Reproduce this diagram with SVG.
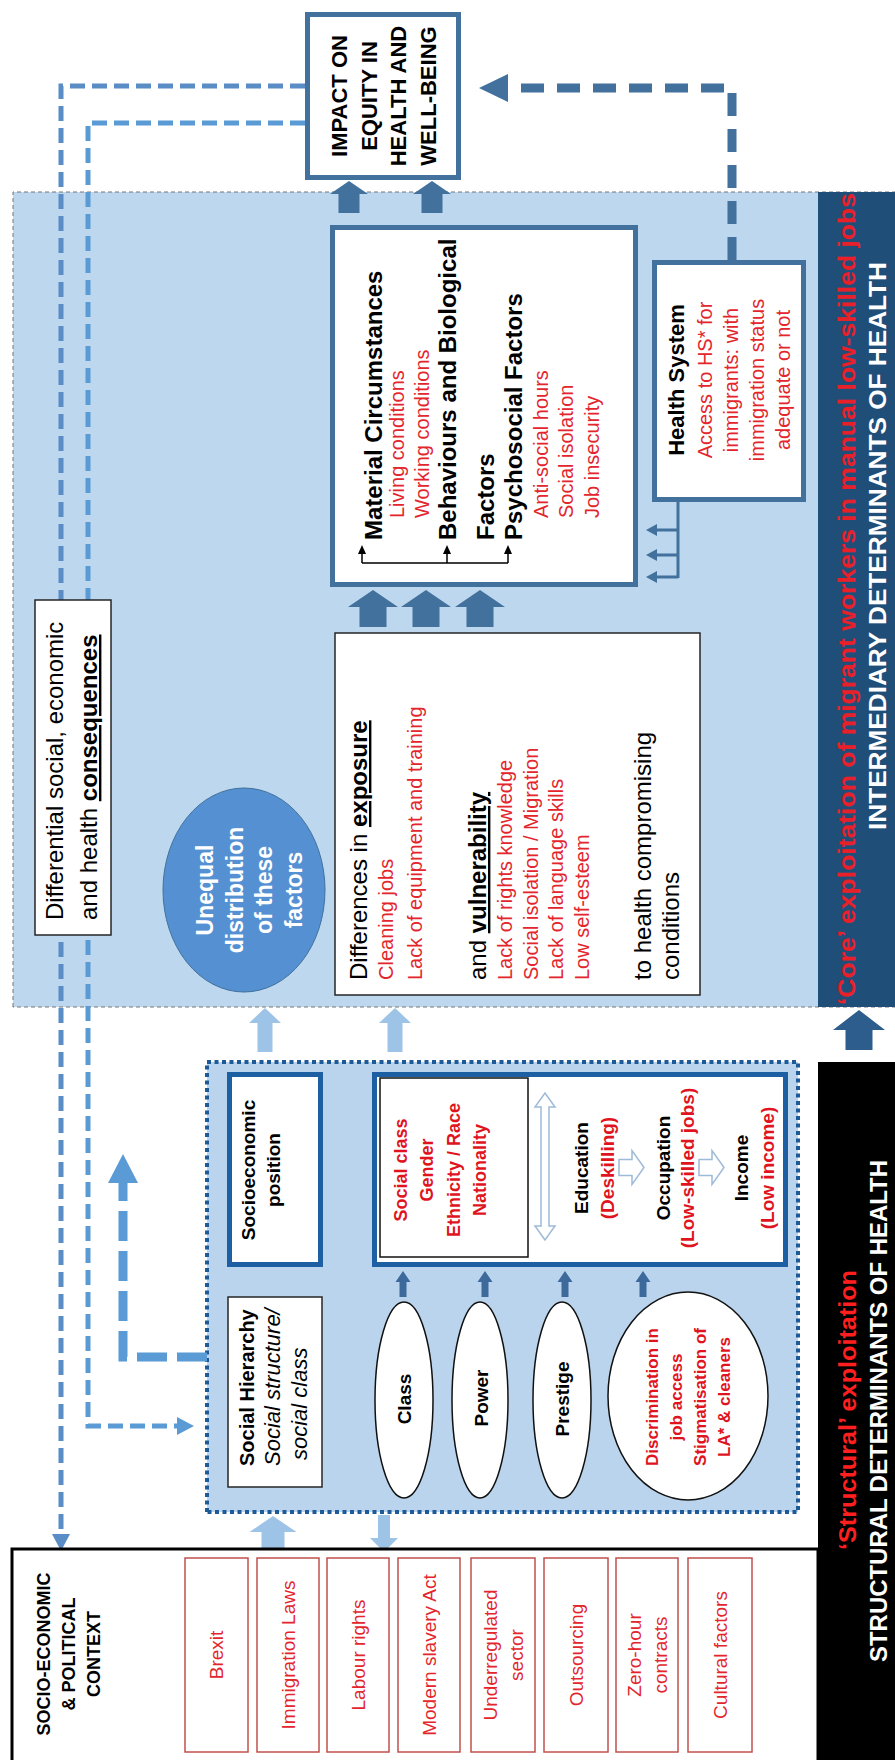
<svg xmlns="http://www.w3.org/2000/svg" width="895" height="1760" viewBox="0 0 895 1760">
<style>
text { font-family: "Liberation Sans", Arial, sans-serif; fill: #000; }
.b { font-weight: bold; }
.i { font-style: italic; }
.m { text-anchor: middle; }
.r { fill: #e3262d; }
.rb { fill: #e0141e; font-weight: bold; }
.w { fill: #fff; }
.u { font-weight: bold; text-decoration: underline; }
.f17 { font-size: 17px; }
.f18 { font-size: 18px; }
.f19 { font-size: 19px; }
.f20 { font-size: 20px; }
.f22 { font-size: 22px; }
.f23 { font-size: 23px; }
.f24 { font-size: 24px; }
.box-steel { fill: #fff; stroke: #41719c; stroke-width: 5; }
.box-sep { fill: #fff; stroke: #1d5fa3; stroke-width: 5; }
.box-thin { fill: #fff; stroke: #262626; stroke-width: 1.5; }
.factor { fill: #fff; stroke: #c0504d; stroke-width: 1.5; }
.oval { fill: #fff; stroke: #111; stroke-width: 1.5; }
.steel { fill: #41719c; }
.pale { fill: #9dc3e6; }
.hollow { fill: #fff; stroke: #9dbbd8; stroke-width: 1.5; }
</style>

<!-- whole framework is laid out horizontally, then turned to read bottom-to-top -->
<g transform="translate(0,1760) rotate(-90)">

  <!-- background regions -->
  <g id="regions">
    <rect x="753" y="13" width="815" height="890" fill="#bdd7ee" stroke="#777" stroke-width="1" stroke-dasharray="4 3"/>
    <rect x="753" y="818" width="815" height="80" fill="#1f4e79"/>
    <rect x="-2" y="818" width="700" height="80" fill="#000"/>
    <rect x="248" y="207" width="450" height="591" fill="#b9d4ec" stroke="#1d5a98" stroke-width="4" stroke-dasharray="4 3.5"/>
  </g>

  <!-- connectors -->
  <g id="connectors">
    <!-- feedback lines from the impact box -->
    <path d="M1674,305 V61 H226" fill="none" stroke="#5a8cc6" stroke-width="5" stroke-dasharray="15 7"/>
    <polygon points="226,52 209,61 226,70" fill="#5a8cc6"/>
    <path d="M1637,305 V88 H334 V177" fill="none" stroke="#5b9bd5" stroke-width="5" stroke-dasharray="15 7"/>
    <polygon points="325,177 334,194 343,177" fill="#5b9bd5"/>
    <!-- health system to impact -->
    <path d="M1500,732 H1672 V508" fill="none" stroke="#41719c" stroke-width="9" stroke-dasharray="23 13"/>
    <polygon points="1658,508 1672,479 1686,508" fill="#41719c"/>
    <!-- socioeconomic position back to context -->
    <path d="M403,207 V123 H577" fill="none" stroke="#5b9bd5" stroke-width="9" stroke-dasharray="30 10"/>
    <polygon points="577,108 606,123 577,138" fill="#5b9bd5"/>

    <!-- intermediary factors to impact -->
    <polygon class="steel" points="1547,338.5 1566,338.5 1566,330 1579,349 1566,368 1566,359.5 1547,359.5"/>
    <polygon class="steel" points="1547,421.5 1566,421.5 1566,413 1579,432 1566,451 1566,442.5 1547,442.5"/>
    <!-- exposure to intermediary factors -->
    <polygon class="steel" points="1133,359.5 1153,359.5 1153,348 1170,373 1153,398 1153,386.5 1133,386.5"/>
    <polygon class="steel" points="1133,412.5 1153,412.5 1153,401 1170,426 1153,451 1153,439.5 1133,439.5"/>
    <polygon class="steel" points="1133,466.5 1153,466.5 1153,455 1170,480 1153,505 1153,493.5 1133,493.5"/>
    <!-- structural to intermediary -->
    <polygon class="pale" points="708,257.5 737,257.5 737,249 752,265 737,281 737,272.5 708,272.5"/>
    <polygon class="pale" points="708,387.5 737,387.5 737,379 752,395 737,411 737,402.5 708,402.5"/>
    <polygon fill="#2d5d8c" points="710,845.5 730,845.5 730,833 750,859 730,885 730,872.5 710,872.5"/>
    <!-- context and socioeconomic position -->
    <polygon class="pale" points="207,261.5 228,261.5 228,249.5 244,273 228,296.5 228,284.5 207,284.5"/>
    <polygon class="pale" points="245,378 222,378 222,370 208,384 222,398 222,390 245,390"/>
    <!-- mechanisms to position -->
    <polygon fill="#3d6a9a" points="463,399.5 478,399.5 478,395.5 489,403 478,410.5 478,406.5 463,406.5"/>
    <polygon fill="#3d6a9a" points="463,481.5 478,481.5 478,477.5 489,485 478,492.5 478,488.5 463,488.5"/>
    <polygon fill="#3d6a9a" points="463,561.5 478,561.5 478,557.5 489,565 478,572.5 478,568.5 463,568.5"/>
    <polygon fill="#3d6a9a" points="463,639.5 478,639.5 478,635.5 489,643 478,650.5 478,646.5 463,646.5"/>
    <!-- health system branches -->
    <g stroke="#41719c" stroke-width="3" fill="none">
      <path d="M1258,678 H1182"/>
      <path d="M1230,678 V656 M1205,678 V656 M1183,678 V656"/>
    </g>
    <g class="steel">
      <polygon points="1224,657 1230,646 1236,657"/>
      <polygon points="1199,657 1205,646 1211,657"/>
      <polygon points="1177,657 1183,646 1189,657"/>
    </g>
  </g>

  <!-- impact -->
  <g id="impact">
    <rect class="box-steel" x="1582.5" y="307.5" width="163" height="151"/>
    <text class="b f22 m" x="1664" y="347">IMPACT ON</text>
    <text class="b f22 m" x="1664" y="376.5">EQUITY IN</text>
    <text class="b f22 m" x="1664" y="406">HEALTH AND</text>
    <text class="b f22 m" x="1664" y="435.5">WELL-BEING</text>
  </g>

  <!-- intermediary factors -->
  <g id="intermediary-factors">
    <rect class="box-steel" x="1175.5" y="332.5" width="357" height="303"/>
    <text class="b f24" x="1220" y="382">Material Circumstances</text>
    <text class="r f20" x="1242" y="404">Living conditions</text>
    <text class="r f20" x="1242" y="429">Working conditions</text>
    <text class="b f24" x="1220" y="456">Behaviours and Biological</text>
    <text class="b f24" x="1220" y="494">Factors</text>
    <text class="b f24" x="1220" y="522">Psychosocial Factors</text>
    <text class="r f20" x="1242" y="548">Anti-social hours</text>
    <text class="r f20" x="1242" y="573">Social isolation</text>
    <text class="r f20" x="1242" y="599">Job insecurity</text>
  </g>

  <!-- health system -->
  <g id="health-system">
    <rect class="box-steel" x="1260.5" y="654.5" width="237" height="149"/>
    <text class="b f22 m" x="1380" y="684">Health System</text>
    <text class="r f20 m" x="1380" y="712">Access to HS* for</text>
    <text class="r f20 m" x="1380" y="738">immigrants: with</text>
    <text class="r f20 m" x="1380" y="764">immigration status</text>
    <text class="r f20 m" x="1380" y="790">adequate or not</text>
  </g>

  <!-- exposure and vulnerability -->
  <g id="exposure">
    <rect class="box-thin" x="765" y="335" width="362" height="365"/>
    <text class="f24" x="780" y="367">Differences in <tspan class="u">exposure</tspan></text>
    <text class="r f20" x="780" y="393">Cleaning jobs</text>
    <text class="r f20" x="780" y="422">Lack of equipment and training</text>
    <text class="f24" x="780" y="486">and <tspan class="u">vulnerability</tspan></text>
    <text class="r f20" x="780" y="512">Lack of rights knowledge</text>
    <text class="r f20" x="780" y="538">Social isolation / Migration</text>
    <text class="r f20" x="780" y="563">Lack of language skills</text>
    <text class="r f20" x="780" y="589">Low self-esteem</text>
    <text class="f24" x="780" y="651">to health compromising</text>
    <text class="f24" x="780" y="679">conditions</text>
  </g>

  <!-- consequences -->
  <g id="consequences">
    <rect class="box-thin" x="825" y="35" width="335" height="76"/>
    <text class="f24" x="840" y="63">Differential social, economic</text>
    <text class="f24" x="840" y="97">and health <tspan class="u">consequences</tspan></text>
  </g>

  <!-- unequal distribution -->
  <g id="unequal-distribution">
    <ellipse cx="870" cy="244" rx="102" ry="81" fill="#5591d2" stroke="#41719c" stroke-width="1"/>
    <text class="b w f23 m" x="870" y="213">Unequal</text>
    <text class="b w f23 m" x="870" y="243">distribution</text>
    <text class="b w f23 m" x="870" y="272">of these</text>
    <text class="b w f23 m" x="870" y="302">factors</text>
  </g>

  <!-- socioeconomic position -->
  <g id="socioeconomic-position">
    <rect class="box-sep" x="495.5" y="229.5" width="190" height="91"/>
    <text class="b f19 m" x="590" y="255">Socioeconomic</text>
    <text class="b f19 m" x="590" y="280">position</text>
  </g>

  <!-- social stratifiers -->
  <g id="stratifiers">
    <rect class="box-sep" x="495.5" y="374.5" width="190" height="411"/>
    <rect x="503" y="380" width="179" height="148" fill="none" stroke="#111" stroke-width="1.5"/>
    <text class="rb f18 m" x="590" y="407">Social class</text>
    <text class="rb f18 m" x="590" y="433">Gender</text>
    <text class="rb f18 m" x="590" y="460">Ethnicity / Race</text>
    <text class="rb f18 m" x="590" y="486">Nationality</text>
    <text class="b f19 m" x="592" y="588">Education</text>
    <text class="rb f19 m" x="592" y="614">(Deskilling)</text>
    <text class="b f19 m" x="592" y="670">Occupation</text>
    <text class="rb f19 m" x="592" y="694">(Low-skilled jobs)</text>
    <text class="b f19 m" x="592" y="748">Income</text>
    <text class="rb f19 m" x="592" y="774">(Low income)</text>
  </g>

  <!-- social hierarchy -->
  <g id="social-hierarchy">
    <rect class="box-thin" x="273" y="228" width="190" height="94"/>
    <text class="b" font-size="20" x="294" y="254">Social Hierarchy</text>
    <text class="i f22" x="294" y="280">Social structure/</text>
    <text class="i f22" x="300" y="307">social class</text>
  </g>

  <!-- mechanisms -->
  <g id="class">
    <ellipse class="oval" cx="360" cy="404" rx="98" ry="29"/>
    <text class="b f19 m" x="361" y="411">Class</text>
  </g>
  <g id="power">
    <ellipse class="oval" cx="360" cy="480" rx="98" ry="28"/>
    <text class="b f19 m" x="362" y="488">Power</text>
  </g>
  <g id="prestige">
    <ellipse class="oval" cx="360" cy="562" rx="98" ry="29"/>
    <text class="b f19 m" x="361" y="569">Prestige</text>
  </g>
  <g id="discrimination">
    <ellipse class="oval" cx="364" cy="688" rx="104" ry="80"/>
    <text class="rb f17 m" x="363" y="658">Discrimination in</text>
    <text class="rb f17 m" x="363" y="682">job access</text>
    <text class="rb f17 m" x="363" y="706">Stigmatisation of</text>
    <text class="rb f17 m" x="363" y="730">LA* &amp; cleaners</text>
  </g>

  <!-- socio-economic and political context -->
  <g id="context">
    <rect x="-10" y="12" width="221" height="806" fill="#fff" stroke="#000" stroke-width="3"/>
    <text class="b f18 m" x="106" y="50">SOCIO-ECONOMIC</text>
    <text class="b f18 m" x="106" y="75">&amp; POLITICAL</text>
    <text class="b f18 m" x="106" y="100">CONTEXT</text>
    <g id="brexit"><rect class="factor" x="8" y="185" width="194" height="63"/><text class="r f19 m" x="105" y="223">Brexit</text></g>
    <g id="immigration-laws"><rect class="factor" x="8" y="257" width="194" height="62"/><text class="r f19 m" x="105" y="295">Immigration Laws</text></g>
    <g id="labour-rights"><rect class="factor" x="8" y="327" width="194" height="62"/><text class="r f19 m" x="105" y="365">Labour rights</text></g>
    <g id="modern-slavery"><rect class="factor" x="8" y="398" width="194" height="62"/><text class="r f19 m" x="105" y="436">Modern slavery Act</text></g>
    <g id="underregulated"><rect class="factor" x="8" y="471" width="194" height="64"/><text class="r f19 m" x="105" y="497">Underregulated</text><text class="r f19 m" x="105" y="523">sector</text></g>
    <g id="outsourcing"><rect class="factor" x="8" y="544" width="194" height="64"/><text class="r f19 m" x="105" y="583">Outsourcing</text></g>
    <g id="zero-hour"><rect class="factor" x="8" y="616" width="194" height="62"/><text class="r f19 m" x="105" y="641">Zero-hour</text><text class="r f19 m" x="105" y="667">contracts</text></g>
    <g id="cultural"><rect class="factor" x="8" y="688" width="194" height="64"/><text class="r f19 m" x="105" y="727">Cultural factors</text></g>
  </g>

  <!-- band titles -->
  <g id="band-titles">
    <text class="b m" font-size="24" style="fill:#e8202a" x="1161" y="855" textLength="812" lengthAdjust="spacingAndGlyphs">&#8216;Core&#8217; exploitation of migrant workers in manual low-skilled jobs</text>
    <text class="b w m f23" x="1214" y="886" textLength="568" lengthAdjust="spacingAndGlyphs">INTERMEDIARY DETERMINANTS OF HEALTH</text>
    <text class="b m" font-size="24" style="fill:#ff1f1f" x="350" y="856" textLength="280" lengthAdjust="spacingAndGlyphs">&#8216;Structural&#8217;  exploitation</text>
    <text class="b w m f23" x="349" y="887" textLength="502" lengthAdjust="spacingAndGlyphs">STRUCTURAL DETERMINANTS OF HEALTH</text>
  </g>

  <!-- connectors drawn inside boxes -->
  <g id="connectors-inner">
    <path d="M1197,362 V508 M1197,362 H1208 M1197,447 H1208 M1197,508 H1208" fill="none" stroke="#000" stroke-width="1.5"/>
    <polygon points="1206,358 1215,362 1206,366"/>
    <polygon points="1206,443 1215,447 1206,451"/>
    <polygon points="1206,504 1215,508 1206,512"/>
    <polygon class="hollow" points="520,545 534,535 534,541 653,541 653,535 667,545 653,555 653,549 534,549 534,555"/>
    <polygon class="hollow" points="584.5,619 600.5,619 600.5,632 609.5,632 592.5,644 575.5,632 584.5,632"/>
    <polygon class="hollow" points="584.5,699 600.5,699 600.5,712 609.5,712 592.5,724 575.5,712 584.5,712"/>
  </g>
</g>
</svg>
